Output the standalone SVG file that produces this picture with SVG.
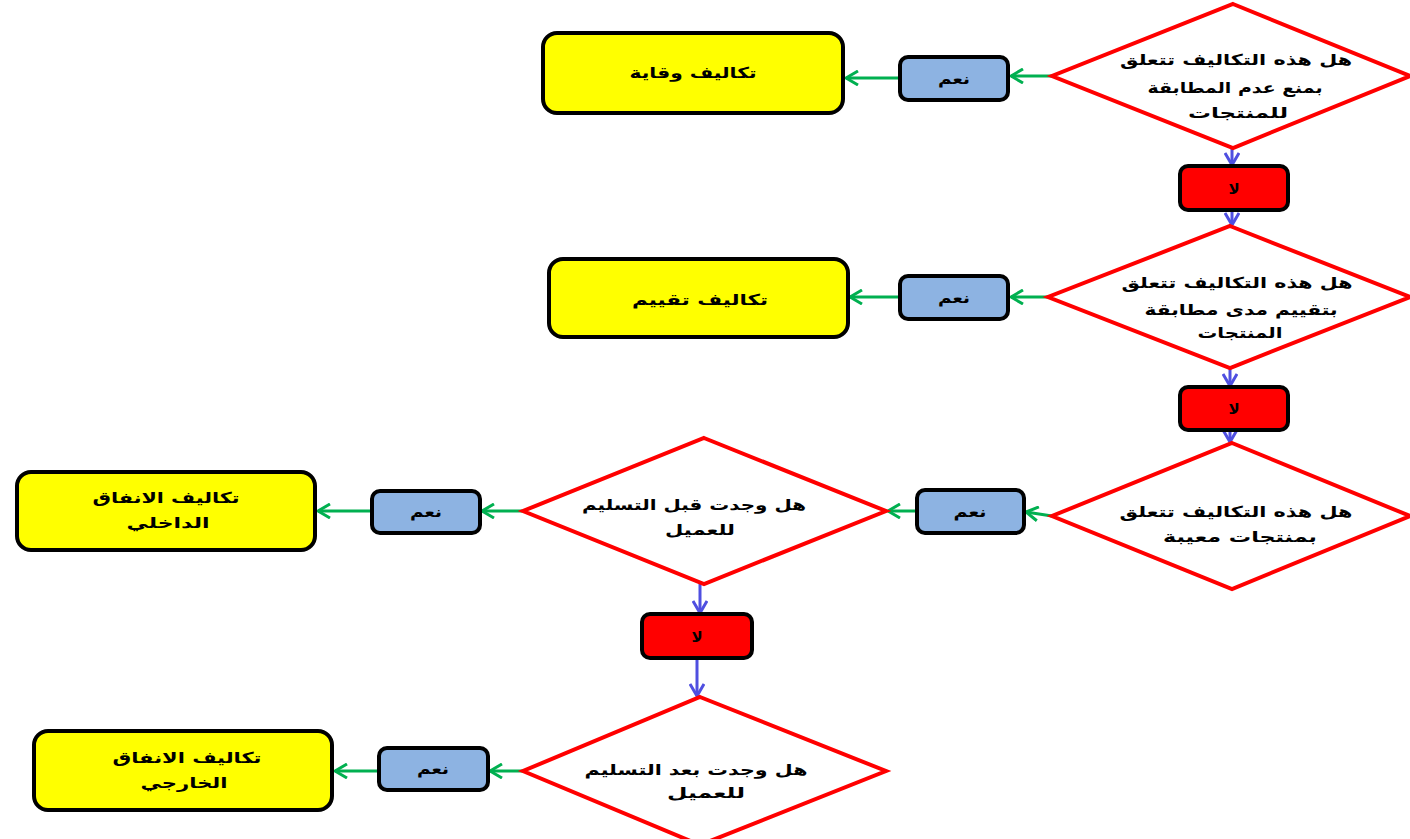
<svg xmlns="http://www.w3.org/2000/svg" width="1410" height="839" viewBox="0 0 1410 839">
  <defs>
    <style>
      .dec { fill: #ffffff; stroke: #ff0000; stroke-width: 4; stroke-linejoin: miter; }
      .res { fill: #ffff00; stroke: #000000; stroke-width: 4; }
      .yes { fill: #8db3e2; stroke: #000000; stroke-width: 4; }
      .no { fill: #ff0000; stroke: #000000; stroke-width: 4; }
      .t { font-family: "DejaVu Sans", "Noto Sans", sans-serif; font-weight: bold; font-size: 15px; fill: #000000; text-anchor: middle; direction: rtl; }
      .g { stroke: #00b050; stroke-width: 3; fill: none; marker-end: url(#ag); }
      .b { stroke: #4f4fe0; stroke-width: 3; fill: none; marker-end: url(#ab); }
    </style>
    <marker id="ag" viewBox="0 0 16 16" markerWidth="16" markerHeight="16" refX="14" refY="8" orient="auto" markerUnits="userSpaceOnUse">
      <path d="M2,1 L14,8 L2,15" fill="none" stroke="#00b050" stroke-width="3"/>
    </marker>
    <marker id="ab" viewBox="0 0 16 16" markerWidth="16" markerHeight="16" refX="14" refY="8" orient="auto" markerUnits="userSpaceOnUse">
      <path d="M2,1 L14,8 L2,15" fill="none" stroke="#4f4fe0" stroke-width="3"/>
    </marker>
  </defs>
  <rect width="1410" height="839" fill="#ffffff"/>

  <!-- connectors -->
  <g id="connectors">
    <line class="g" x1="1052" y1="76" x2="1011" y2="76"/>
    <line class="g" x1="899" y1="78" x2="846" y2="78"/>
    <line class="b" x1="1232" y1="148" x2="1232" y2="165"/>
    <line class="b" x1="1232" y1="211" x2="1232" y2="225"/>
    <line class="g" x1="1048" y1="297" x2="1011" y2="297"/>
    <line class="g" x1="899" y1="297" x2="850" y2="297"/>
    <line class="b" x1="1230" y1="368" x2="1230" y2="386"/>
    <line class="b" x1="1230" y1="431" x2="1230" y2="442"/>
    <line class="g" x1="1052" y1="516" x2="1026" y2="512"/>
    <line class="g" x1="915" y1="511" x2="888" y2="511"/>
    <line class="g" x1="522" y1="511" x2="482" y2="511"/>
    <line class="g" x1="371" y1="511" x2="318" y2="511"/>
    <line class="b" x1="700" y1="584" x2="700" y2="613"/>
    <line class="b" x1="697" y1="659" x2="697" y2="696"/>
    <line class="g" x1="523" y1="771" x2="490" y2="771"/>
    <line class="g" x1="377" y1="771" x2="335" y2="771"/>
  </g>

  <!-- decision 1 -->
  <g id="d1">
    <polygon class="dec" points="1233,4 1410,76 1233,148 1052,76"/>
    <text class="t" x="1236" y="65" textLength="232" lengthAdjust="spacingAndGlyphs">هل هذه التكاليف تتعلق</text>
    <text class="t" x="1235" y="93" textLength="175" lengthAdjust="spacingAndGlyphs">بمنع عدم المطابقة</text>
    <text class="t" x="1238" y="118" textLength="100" lengthAdjust="spacingAndGlyphs">للمنتجات</text>
  </g>
  <g id="yes1">
    <rect class="yes" x="900" y="57" width="108" height="43" rx="8"/>
    <text class="t" x="954" y="84" textLength="32" lengthAdjust="spacingAndGlyphs">نعم</text>
  </g>
  <g id="r1">
    <rect class="res" x="543" y="33" width="300" height="80" rx="14"/>
    <text class="t" x="693" y="78" textLength="127" lengthAdjust="spacingAndGlyphs">تكاليف وقاية</text>
  </g>
  <g id="no1">
    <rect class="no" x="1180" y="166" width="108" height="44" rx="8"/>
    <text class="t" x="1234" y="194">لا</text>
  </g>

  <!-- decision 2 -->
  <g id="d2">
    <polygon class="dec" points="1230,226 1410,297 1230,368 1048,297"/>
    <text class="t" x="1237" y="288" textLength="231" lengthAdjust="spacingAndGlyphs">هل هذه التكاليف تتعلق</text>
    <text class="t" x="1241" y="315" textLength="193" lengthAdjust="spacingAndGlyphs">بتقييم مدى مطابقة</text>
    <text class="t" x="1240" y="338" textLength="85" lengthAdjust="spacingAndGlyphs">المنتجات</text>
  </g>
  <g id="yes2">
    <rect class="yes" x="900" y="276" width="108" height="43" rx="8"/>
    <text class="t" x="954" y="303" textLength="32" lengthAdjust="spacingAndGlyphs">نعم</text>
  </g>
  <g id="r2">
    <rect class="res" x="549" y="259" width="299" height="78" rx="14"/>
    <text class="t" x="700" y="305" textLength="136" lengthAdjust="spacingAndGlyphs">تكاليف تقييم</text>
  </g>
  <g id="no2">
    <rect class="no" x="1180" y="387" width="108" height="43" rx="8"/>
    <text class="t" x="1234" y="414">لا</text>
  </g>

  <!-- decision 3 -->
  <g id="d3">
    <polygon class="dec" points="1232,443 1410,516 1232,589 1052,516"/>
    <text class="t" x="1236" y="517" textLength="233" lengthAdjust="spacingAndGlyphs">هل هذه التكاليف تتعلق</text>
    <text class="t" x="1240" y="542" textLength="154" lengthAdjust="spacingAndGlyphs">بمنتجات معيبة</text>
  </g>
  <g id="yes3">
    <rect class="yes" x="917" y="490" width="107" height="43" rx="8"/>
    <text class="t" x="970" y="517" textLength="33" lengthAdjust="spacingAndGlyphs">نعم</text>
  </g>

  <!-- decision 4 -->
  <g id="d4">
    <polygon class="dec" points="704,438 886,511 704,584 523,511"/>
    <text class="t" x="694" y="510" textLength="224" lengthAdjust="spacingAndGlyphs">هل وجدت قبل التسليم</text>
    <text class="t" x="700" y="535" textLength="70" lengthAdjust="spacingAndGlyphs">للعميل</text>
  </g>
  <g id="yes4">
    <rect class="yes" x="372" y="491" width="108" height="42" rx="8"/>
    <text class="t" x="426" y="517" textLength="32" lengthAdjust="spacingAndGlyphs">نعم</text>
  </g>
  <g id="r3">
    <rect class="res" x="17" y="472" width="298" height="78" rx="14"/>
    <text class="t" x="166" y="503" textLength="147" lengthAdjust="spacingAndGlyphs">تكاليف الانفاق</text>
    <text class="t" x="168" y="528" textLength="83" lengthAdjust="spacingAndGlyphs">الداخلي</text>
  </g>
  <g id="no3">
    <rect class="no" x="642" y="614" width="110" height="44" rx="8"/>
    <text class="t" x="697" y="642">لا</text>
  </g>

  <!-- decision 5 -->
  <g id="d5">
    <polygon class="dec" points="700,697 886,771 700,845 523,771"/>
    <text class="t" x="696" y="775" textLength="223" lengthAdjust="spacingAndGlyphs">هل وجدت بعد التسليم</text>
    <text class="t" x="706" y="798" textLength="78" lengthAdjust="spacingAndGlyphs">للعميل</text>
  </g>
  <g id="yes5">
    <rect class="yes" x="379" y="748" width="109" height="42" rx="8"/>
    <text class="t" x="433" y="774" textLength="32" lengthAdjust="spacingAndGlyphs">نعم</text>
  </g>
  <g id="r4">
    <rect class="res" x="34" y="731" width="298" height="79" rx="14"/>
    <text class="t" x="187" y="763" textLength="149" lengthAdjust="spacingAndGlyphs">تكاليف الانفاق</text>
    <text class="t" x="184" y="788" textLength="87" lengthAdjust="spacingAndGlyphs">الخارجي</text>
  </g>
</svg>
